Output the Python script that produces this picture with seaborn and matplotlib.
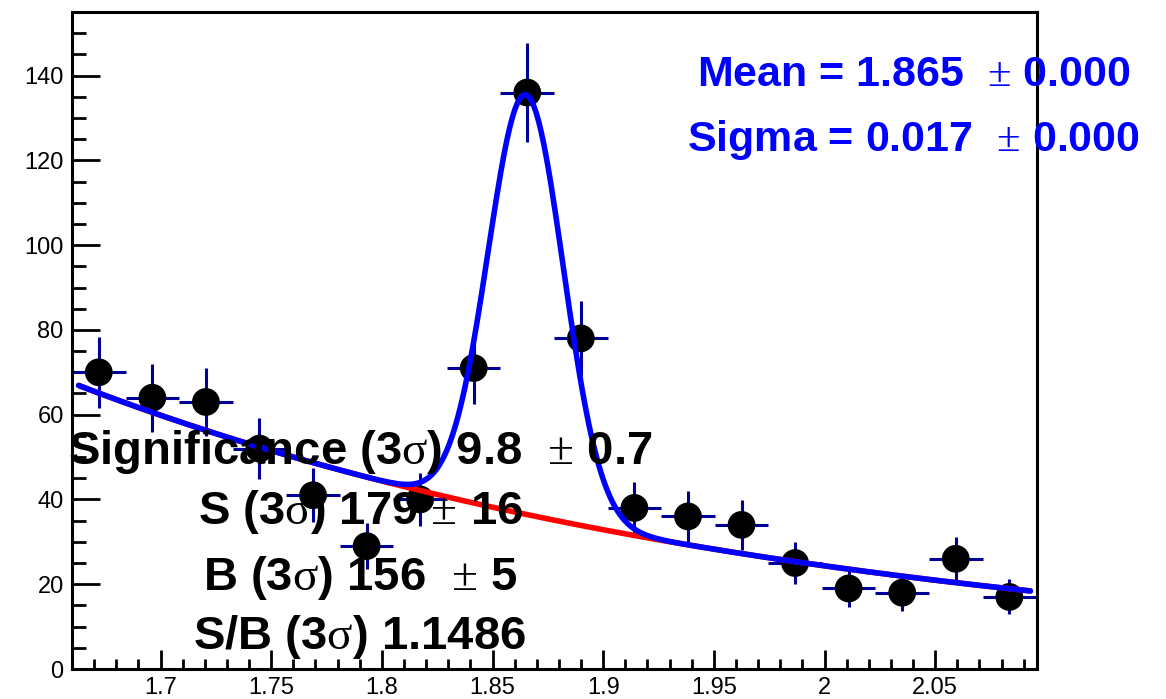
import numpy as np
import pandas as pd
import matplotlib
matplotlib.use("Agg")
import matplotlib.pyplot as plt
import seaborn as sns
from matplotlib.ticker import MultipleLocator

# ---- data ----
bin_centers = [1.6721, 1.6963, 1.7205, 1.7447, 1.7689, 1.7931, 1.8173, 1.8415, 1.8657,
               1.8899, 1.9141, 1.9383, 1.9625, 1.9867, 2.0109, 2.0351, 2.0593, 2.0835]
counts = [70, 64, 63, 52, 41, 29, 40, 71, 136, 78, 38, 36, 34, 25, 19, 18, 26, 17]
bin_width = 0.0242

# fit parameters (gaussian + exponential background)
fit_mean = 1.865
fit_sigma = 0.017
gaus_amp = 99.0
bkg_amp = 67.5      # background value at x = 1.66
bkg_slope = -3.0
fit_range = (1.663, 2.093)

x_ticks = [1.7, 1.75, 1.8, 1.85, 1.9, 1.95, 2.0, 2.05]
x_ticklabels = ["1.7", "1.75", "1.8", "1.85", "1.9", "1.95", "2", "2.05"]
y_ticks = [0, 20, 40, 60, 80, 100, 120, 140]

text_mean = r"Mean = 1.865  $\pm$ 0.000"
text_sigma = r"Sigma = 0.017  $\pm$ 0.000"
text_stats = [r"Significance (3$\sigma$) 9.8  $\pm$ 0.7",
              r"S (3$\sigma$) 179 $\pm$ 16",
              r"B (3$\sigma$) 156  $\pm$ 5",
              r"S/B (3$\sigma$) 1.1486"]

# ---- build frames ----
df = pd.DataFrame({"x": bin_centers, "y": counts})
df["err"] = np.sqrt(df["y"])

xf = np.linspace(fit_range[0], fit_range[1], 400)
bkg = bkg_amp * np.exp(bkg_slope * (xf - 1.66))
total = bkg + gaus_amp * np.exp(-0.5 * ((xf - fit_mean) / fit_sigma) ** 2)
df_bkg = pd.DataFrame({"x": xf, "y": bkg})
df_tot = pd.DataFrame({"x": xf, "y": total})

sns.set_theme(style="white")
plt.rcParams["font.family"] = ["Liberation Sans", "DejaVu Sans"]
plt.rcParams["mathtext.fontset"] = "custom"
plt.rcParams["mathtext.rm"] = "Liberation Serif"
plt.rcParams["mathtext.it"] = "Liberation Serif"
plt.rcParams["mathtext.bf"] = "Liberation Serif"

W, H = 1166, 699
fig = plt.figure(figsize=(W / 100, H / 100), dpi=100)
ax = fig.add_axes([72 / W, 1 - 669 / H, (1037 - 72) / W, (669 - 12) / H])

# error bars
ax.errorbar(df["x"], df["y"], xerr=bin_width / 2, yerr=df["err"], fmt="none",
            ecolor="#000099", elinewidth=2.2, capsize=0, zorder=2)
sns.scatterplot(data=df, x="x", y="y", ax=ax, color="black", s=400,
                edgecolor="none", zorder=3, legend=False)

sns.lineplot(data=df_bkg, x="x", y="y", ax=ax, color="#ff0000", linewidth=4,
             zorder=4, sort=False)
sns.lineplot(data=df_tot, x="x", y="y", ax=ax, color="#0000ff", linewidth=4,
             zorder=5, sort=False)

ax.set_xlim(1.66, 2.096)
ax.set_ylim(0, 155)
ax.set_xlabel("")
ax.set_ylabel("")
ax.set_xticks(x_ticks)
ax.set_xticklabels(x_ticklabels)
ax.set_yticks(y_ticks)
ax.xaxis.set_minor_locator(MultipleLocator(0.01))
ax.yaxis.set_minor_locator(MultipleLocator(5))
ax.tick_params(axis="x", which="major", direction="in", length=14, width=2,
               labelsize=17, pad=6, bottom=True, top=False, color="black",
               labelcolor="black")
ax.tick_params(axis="x", which="minor", direction="in", length=7, width=2,
               bottom=True, top=False, color="black")
ax.tick_params(axis="y", which="major", direction="in", length=20, width=2,
               labelsize=17, pad=6, left=True, right=False, color="black",
               labelcolor="black")
ax.tick_params(axis="y", which="minor", direction="in", length=10, width=2,
               left=True, right=False, color="black")
for sp in ax.spines.values():
    sp.set_visible(True)
    sp.set_color("black")
    sp.set_linewidth(2.2)

# texts
fig.text(914 / W, 1 - 75 / H, text_mean, color="#0000ff", fontsize=31,
         fontweight="bold", ha="center", va="center", zorder=10)
fig.text(913 / W, 1 - 140 / H, text_sigma, color="#0000ff", fontsize=31,
         fontweight="bold", ha="center", va="center", zorder=10)
for txt, yc in zip(text_stats, [452, 512, 578, 637]):
    fig.text(360 / W, 1 - yc / H, txt, color="black", fontsize=34,
             fontweight="bold", ha="center", va="center", zorder=10)

fig.savefig("out.png", dpi=100)
